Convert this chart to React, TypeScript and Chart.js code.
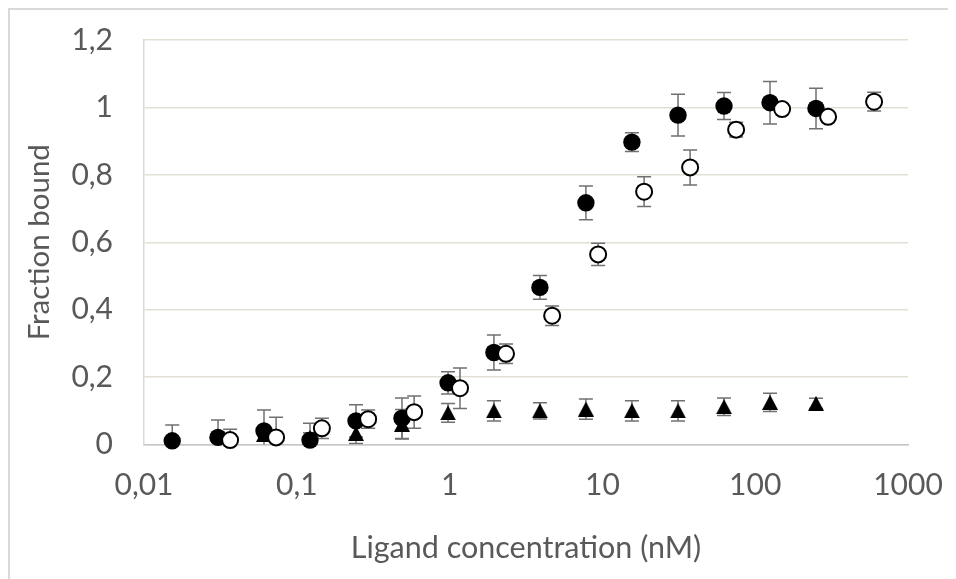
import React, { useEffect, useRef } from 'react';
import { Chart, registerables } from 'chart.js';

Chart.register(...registerables);

// Ligand concentrations (nM)
const concFilled = [0.0153, 0.0305, 0.061, 0.122, 0.244, 0.488, 0.977, 1.95, 3.9, 7.8, 15.6, 31.25, 62.5, 125, 250];
const filledValues = [0.011, 0.021, 0.040, 0.013, 0.070, 0.078, 0.183, 0.273, 0.466, 0.717, 0.897, 0.977, 1.004, 1.014, 0.997];
const filledErrors = [0.047, 0.052, 0.062, 0.05, 0.048, 0.06, 0.033, 0.052, 0.035, 0.05, 0.028, 0.062, 0.04, 0.063, 0.06];

const concOpen = [0.0366, 0.0732, 0.146, 0.293, 0.586, 1.17, 2.34, 4.69, 9.375, 18.75, 37.5, 75, 150, 300, 600];
const openValues = [0.013, 0.021, 0.048, 0.075, 0.096, 0.167, 0.269, 0.382, 0.564, 0.750, 0.822, 0.934, 0.995, 0.972, 1.017];
const openErrors = [0.032, 0.06, 0.03, 0.027, 0.048, 0.06, 0.029, 0.029, 0.033, 0.044, 0.052, 0.022, 0.01, 0.01, 0.028];

const concTriangle = [0.061, 0.122, 0.244, 0.488, 0.977, 1.95, 3.9, 7.8, 15.6, 31.25, 62.5, 125, 250];
const triangleValues = [0.03, 0.02, 0.033, 0.06, 0.094, 0.1, 0.1, 0.105, 0.1, 0.1, 0.112, 0.125, 0.122];
const triangleErrors = [0.02, 0.015, 0.03, 0.044, 0.028, 0.03, 0.024, 0.03, 0.03, 0.03, 0.026, 0.027, 0.015];

const xTicks = [0.01, 0.1, 1, 10, 100, 1000];
const xTickLabels = ['0,01', '0,1', '1', '10', '100', '1000'];
const yTicks = [0, 0.2, 0.4, 0.6, 0.8, 1, 1.2];
const yTickLabels = ['0', '0,2', '0,4', '0,6', '0,8', '1', '1,2'];

const xTitle = 'Ligand concentration (nM)';
const yTitle = 'Fraction bound';

const FONT = 'Lato, "Open Sans", sans-serif';
const TEXT_COLOR = '#595959';

const toPoints = (xs: number[], ys: number[]) => xs.map((x, i) => ({ x, y: ys[i] }));

const errorBarPlugin = {
  id: 'errorBars',
  beforeDatasetsDraw(chart: any) {
    const { ctx, chartArea, scales } = chart;
    const xs = scales.x;
    const ys = scales.y;
    ctx.save();
    ctx.beginPath();
    ctx.rect(chartArea.left, chartArea.top, chartArea.right - chartArea.left, chartArea.bottom - chartArea.top);
    ctx.clip();
    ctx.strokeStyle = '#707070';
    ctx.lineWidth = 1.5;
    const cap = 7;
    chart.data.datasets.forEach((ds: any) => {
      const errs: number[] | undefined = ds.errors;
      if (!errs) return;
      ds.data.forEach((p: any, i: number) => {
        const px = xs.getPixelForValue(p.x);
        const yt = ys.getPixelForValue(p.y + errs[i]);
        const yb = ys.getPixelForValue(p.y - errs[i]);
        ctx.beginPath();
        ctx.moveTo(px, yt);
        ctx.lineTo(px, yb);
        ctx.moveTo(px - cap, yt);
        ctx.lineTo(px + cap, yt);
        ctx.moveTo(px - cap, yb);
        ctx.lineTo(px + cap, yb);
        ctx.stroke();
      });
    });
    ctx.restore();
  },
};

export default function App() {
  const canvasRef = useRef<HTMLCanvasElement | null>(null);

  useEffect(() => {
    document.body.style.overflow = 'hidden';
    const canvas = canvasRef.current;
    if (!canvas) return;

    const tri = document.createElement('canvas');
    tri.width = 16;
    tri.height = 15;
    const tc = tri.getContext('2d')!;
    tc.fillStyle = '#000000';
    tc.beginPath();
    tc.moveTo(8, 0);
    tc.lineTo(16, 15);
    tc.lineTo(0, 15);
    tc.closePath();
    tc.fill();

    const chart = new Chart(canvas, {
      type: 'scatter',
      data: {
        datasets: [
          {
            label: 'open',
            data: toPoints(concOpen, openValues),
            errors: openErrors,
            pointStyle: 'circle',
            pointRadius: 8,
            pointBackgroundColor: '#ffffff',
            pointBorderColor: '#000000',
            pointBorderWidth: 2,
            showLine: false,
            clip: false,
          } as any,
          {
            label: 'filled',
            data: toPoints(concFilled, filledValues),
            errors: filledErrors,
            pointStyle: 'circle',
            pointRadius: 8.7,
            pointBackgroundColor: '#000000',
            pointBorderColor: '#000000',
            pointBorderWidth: 0,
            showLine: false,
            clip: false,
          } as any,
          {
            label: 'triangle',
            data: toPoints(concTriangle, triangleValues),
            errors: triangleErrors,
            pointStyle: tri,
            pointRadius: 8,
            pointBackgroundColor: '#000000',
            pointBorderColor: '#000000',
            showLine: false,
            clip: false,
          } as any,
        ],
      },
      options: {
        animation: false,
        responsive: false,
        events: [],
        layout: { padding: { top: 30, right: 48, left: 0, bottom: 0 } },
        plugins: {
          legend: { display: false },
          tooltip: { enabled: false },
        },
        scales: {
          x: {
            type: 'logarithmic',
            min: 0.01,
            max: 1000,
            afterBuildTicks: (axis: any) => {
              axis.ticks = xTicks.map((v) => ({ value: v }));
            },
            afterFit: (scale: any) => {
              scale.height = 134.5;
              scale.paddingLeft = 0;
              scale.paddingRight = 0;
            },
            ticks: {
              autoSkip: false,
              maxRotation: 0,
              padding: 23,
              color: TEXT_COLOR,
              font: { family: FONT, size: 30 },
              callback: (value: any) => {
                const idx = xTicks.findIndex((t) => Math.abs(Math.log10(t) - Math.log10(Number(value))) < 1e-6);
                return idx >= 0 ? xTickLabels[idx] : '';
              },
            },
            grid: { display: false, drawTicks: false },
            border: { display: true, color: '#c6c6c6', width: 1.5 },
            title: {
              display: true,
              text: xTitle,
              color: TEXT_COLOR,
              font: { family: FONT, size: 30.5 },
              padding: { top: 0, bottom: 13 },
            },
          },
          y: {
            type: 'linear',
            min: 0,
            max: 1.2,
            afterBuildTicks: (axis: any) => {
              axis.ticks = yTicks.map((v) => ({ value: v }));
            },
            afterFit: (scale: any) => {
              scale.width = 134;
              scale.paddingTop = 0;
              scale.paddingBottom = 0;
            },
            ticks: {
              padding: 31,
              color: TEXT_COLOR,
              font: { family: FONT, size: 30 },
              callback: (value: any) => {
                const idx = yTicks.findIndex((t) => Math.abs(t - Number(value)) < 1e-6);
                return idx >= 0 ? yTickLabels[idx] : '';
              },
            },
            grid: { color: '#e4dfd5', lineWidth: 1.5, drawTicks: false },
            border: { display: true, color: '#d9d9d9', width: 1.5 },
            title: {
              display: true,
              text: yTitle,
              color: TEXT_COLOR,
              font: { family: FONT, size: 29.5 },
              padding: { top: 12, bottom: 0 },
            },
          },
        },
      } as any,
      plugins: [errorBarPlugin],
    });

    return () => {
      chart.destroy();
    };
  }, []);

  return (
    <div
      style={{
        borderLeft: '2px solid #d9d9d9',
        borderTop: '2px solid #d9d9d9',
        width: 980,
        height: 620,
        overflow: 'hidden',
        background: '#ffffff',
      }}
    >
      <canvas ref={canvasRef} width={946} height={569} style={{ display: 'block' }} />
    </div>
  );
}
